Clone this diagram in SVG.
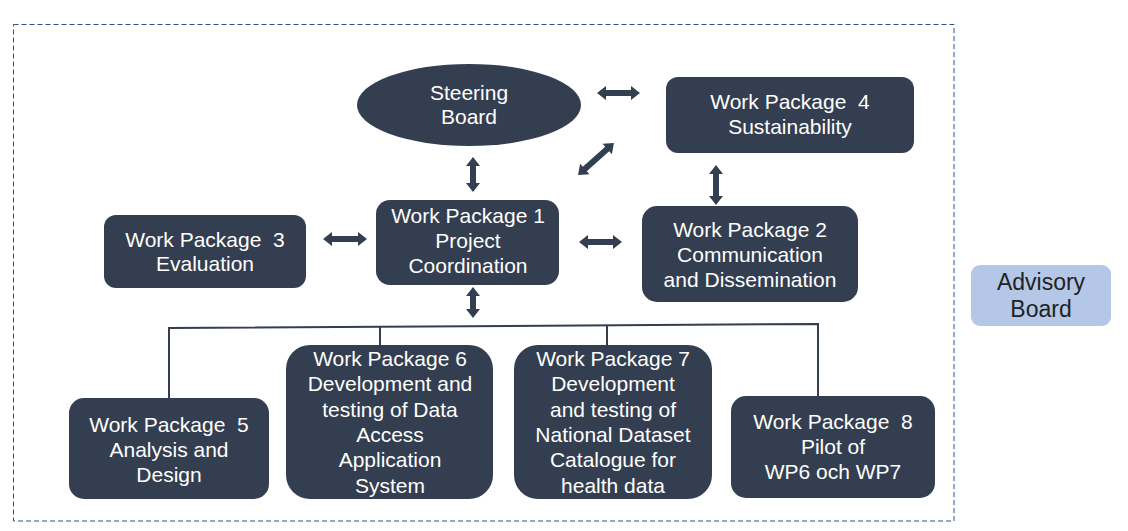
<svg xmlns="http://www.w3.org/2000/svg" width="1128" height="531" viewBox="0 0 1128 531">
<style>
.box{fill:#333e50}
.t{fill:#ffffff;font-family:"Liberation Sans",Arial,sans-serif;font-size:21px;text-anchor:middle;white-space:pre}
.ta{fill:#222222;font-family:"Liberation Sans",Arial,sans-serif;font-size:23px;text-anchor:middle}
.ln{fill:none;stroke:#333e50;stroke-width:2}
.ar{fill:#333e50}
</style>
<rect x="13.5" y="24.5" width="940.5" height="496.5" fill="none" stroke="#2f5597" stroke-width="1" stroke-dasharray="5,3"/>
<g id="connectors">
<polyline class="ln" points="169,398 169,328 818,324 818,396"/>
<line class="ln" x1="380" y1="327" x2="380" y2="345"/>
<line class="ln" x1="607" y1="325" x2="607" y2="345"/>
<polygon class="ar" points="597,93 606,86 606,90 631,90 631,86 640,93 631,100 631,96 606,96 606,100"/>
<polygon class="ar" points="323,239 332,232 332,236 358,236 358,232 367,239 358,246 358,242 332,242 332,246"/>
<polygon class="ar" points="579,242 588,235 588,239 613,239 613,235 622,242 613,249 613,245 588,245 588,249"/>
<polygon class="ar" points="473,157 480,166 476,166 476,183 480,183 473,192 466,183 470,183 470,166 466,166"/>
<polygon class="ar" points="473,287 480,296 476,296 476,309 480,309 473,318 466,309 470,309 470,296 466,296"/>
<polygon class="ar" points="716,165 723,174 719,174 719,196 723,196 716,205 709,196 713,196 713,174 709,174"/>
<polygon class="ar" transform="translate(596,159) rotate(-41.6)" points="-24,0 -15,-7 -15,-3 15,-3 15,-7 24,0 15,7 15,3 -15,3 -15,7"/>
</g>
<g id="steering">
<ellipse class="box" cx="469" cy="105" rx="112" ry="41"/>
<text class="t" x="469" y="100">Steering</text>
<text class="t" x="469" y="124">Board</text>
</g>
<g id="wp4">
<rect class="box" x="666" y="77" width="248" height="76" rx="12"/>
<text class="t" x="790" y="109">Work Package  4</text>
<text class="t" x="790" y="134">Sustainability</text>
</g>
<g id="wp3">
<rect class="box" x="104" y="215" width="202" height="73" rx="12"/>
<text class="t" x="205" y="247">Work Package  3</text>
<text class="t" x="205" y="271">Evaluation</text>
</g>
<g id="wp1">
<rect class="box" x="376" y="200" width="183" height="85" rx="14"/>
<text class="t" x="468" y="223">Work Package 1</text>
<text class="t" x="468" y="248">Project</text>
<text class="t" x="468" y="273">Coordination</text>
</g>
<g id="wp2">
<rect class="box" x="642" y="206" width="216" height="96" rx="15"/>
<text class="t" x="750" y="237">Work Package 2</text>
<text class="t" x="750" y="262">Communication</text>
<text class="t" x="750" y="287">and Dissemination</text>
</g>
<g id="wp5">
<rect class="box" x="69" y="398" width="200" height="101" rx="15"/>
<text class="t" x="169" y="432">Work Package  5</text>
<text class="t" x="169" y="457">Analysis and</text>
<text class="t" x="169" y="482">Design</text>
</g>
<g id="wp6">
<rect class="box" x="286" y="345" width="207" height="154" rx="24"/>
<text class="t" x="390" y="366">Work Package 6</text>
<text class="t" x="390" y="391">Development and</text>
<text class="t" x="390" y="417">testing of Data</text>
<text class="t" x="390" y="442">Access</text>
<text class="t" x="390" y="467">Application</text>
<text class="t" x="390" y="493">System</text>
</g>
<g id="wp7">
<rect class="box" x="514" y="345" width="198" height="154" rx="24"/>
<text class="t" x="613" y="366">Work Package 7</text>
<text class="t" x="613" y="391">Development</text>
<text class="t" x="613" y="417">and testing of</text>
<text class="t" x="613" y="442">National Dataset</text>
<text class="t" x="613" y="467">Catalogue for</text>
<text class="t" x="613" y="493">health data</text>
</g>
<g id="wp8">
<rect class="box" x="731" y="396" width="204" height="102" rx="15"/>
<text class="t" x="833" y="429">Work Package  8</text>
<text class="t" x="833" y="454">Pilot of</text>
<text class="t" x="833" y="479">WP6 och WP7</text>
</g>
<g id="advisory">
<rect x="971" y="265" width="140" height="61" rx="9" fill="#b4c7e7"/>
<text class="ta" x="1041" y="290">Advisory</text>
<text class="ta" x="1041" y="317">Board</text>
</g>
</svg>
